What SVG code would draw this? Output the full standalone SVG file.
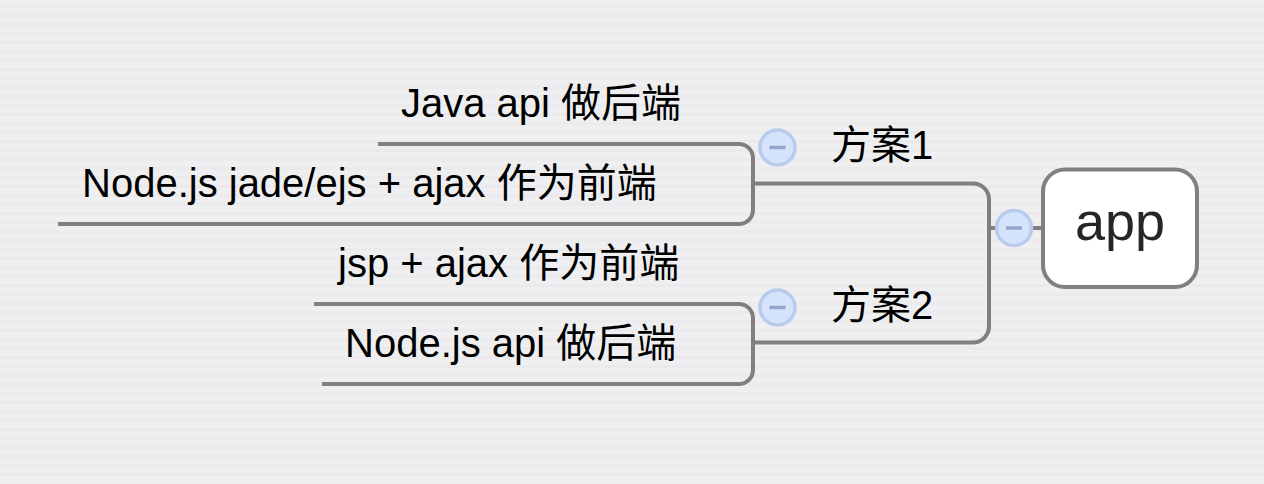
<svg xmlns="http://www.w3.org/2000/svg" width="1264" height="484" viewBox="0 0 1264 484">
<style>
.t{font-family:"Liberation Sans","Noto Sans CJK SC",sans-serif;font-size:40px;fill:#000}
.app{font-family:"Liberation Sans","Noto Sans CJK SC",sans-serif;font-size:54px;fill:#262626}
.ln{fill:none;stroke:#808080;stroke-width:4}
.cc{fill:#d5e4fa;stroke:#b8cbef;stroke-width:3.5}
.cm{stroke:#92a3cf;stroke-width:3.5}
</style>
<defs>
<pattern id="bg" width="16" height="9" patternUnits="userSpaceOnUse">
<rect width="16" height="9" fill="#efeff1"/>
<rect y="5" width="16" height="3" fill="#ebebed"/>
</pattern>
</defs>
<rect width="1264" height="484" fill="url(#bg)"/>
<g id="connectors">
<path class="ln" d="M753,183.5 H973 A16 16 0 0 1 989,199.5 V326.5 A16 16 0 0 1 973,342.5 H753"/>
<path class="ln" d="M989,228 H996"/>
<path class="ln" d="M1032,228 H1044"/>
<path class="ln" d="M378,144 H739 A14 14 0 0 1 753,158 V210 A14 14 0 0 1 739,224 H58"/>
<path class="ln" d="M314,304 H739 A14 14 0 0 1 753,318 V370 A14 14 0 0 1 739,384 H322"/>
</g>
<g id="app">
<rect x="1043" y="169.5" width="154" height="117.5" rx="22" fill="#fff" stroke="#808080" stroke-width="4"/>
<text class="app" x="1120" y="240" text-anchor="middle">app</text>
<circle class="cc" cx="1014" cy="228" r="17.5"/>
<line class="cm" x1="1006" y1="228" x2="1022" y2="228"/>
</g>
<g id="plan1">
<text class="t" x="831" y="159">方案1</text>
<circle class="cc" cx="777.5" cy="147.5" r="17.5"/>
<line class="cm" x1="769.5" y1="147.5" x2="785.5" y2="147.5"/>
</g>
<g id="plan2">
<text class="t" x="831" y="319">方案2</text>
<circle class="cc" cx="777.5" cy="307.5" r="17.5"/>
<line class="cm" x1="769.5" y1="307.5" x2="785.5" y2="307.5"/>
</g>
<g id="java-api">
<text class="t" x="401" y="117">Java api 做后端</text>
</g>
<g id="node-jade">
<text class="t" x="82" y="197">Node.js jade/ejs + ajax 作为前端</text>
</g>
<g id="jsp-ajax">
<text class="t" x="338" y="277">jsp + ajax 作为前端</text>
</g>
<g id="node-api">
<text class="t" x="345" y="357">Node.js api 做后端</text>
</g>
</svg>
